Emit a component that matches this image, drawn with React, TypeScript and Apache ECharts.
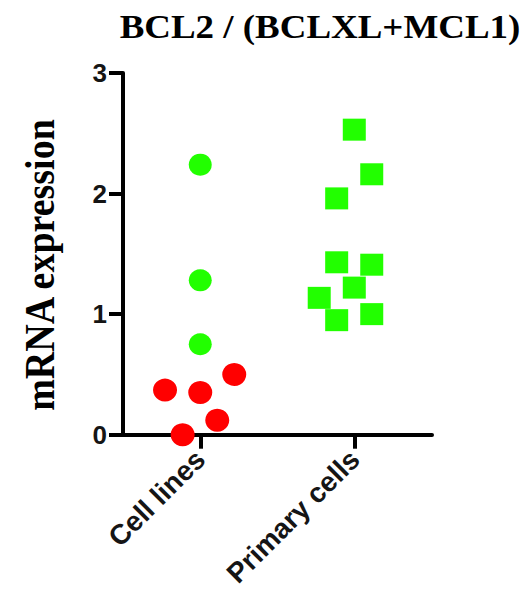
import React, { useEffect, useRef } from "react";
import * as echarts from "echarts";

// Groups on the category axis
const categories = ["Cell lines", "Primary cells"];
const yTicks = [0, 1, 2, 3];

// Cell lines: horizontal position (jittered around group centre 0.5) and ratio
const cellGreenX = [0.5, 0.5, 0.5];
const cellGreenY = [2.24, 1.28, 0.75];
const cellRedX = [0.272, 0.5, 0.72, 0.61, 0.386];
const cellRedY = [0.37, 0.35, 0.5, 0.12, 0.0];

// Primary cells: jittered around group centre 1.5
const primaryX = [1.497, 1.61, 1.383, 1.383, 1.61, 1.497, 1.27, 1.383, 1.61];
const primaryY = [2.53, 2.16, 1.96, 1.43, 1.41, 1.22, 1.135, 0.95, 1.0];

const GREEN = "#22ff00";
const RED = "#ff0000";

const zip = (xs: number[], ys: number[]) => xs.map((x, i) => [x, ys[i]]);

export default function App() {
  const ref = useRef<HTMLDivElement>(null);

  useEffect(() => {
    if (!ref.current) return;
    const chart = echarts.init(ref.current, null, { renderer: "svg" });
    const axisLine = { show: true, lineStyle: { color: "#000", width: 4 } };
    const tick = { show: true, length: 14, lineStyle: { color: "#000", width: 4 } };
    chart.setOption({
      animation: false,
      grid: { left: 123, right: 94, top: 73, bottom: 153, containLabel: false },
      graphic: [
        {
          type: "text",
          x: 320,
          y: 27,
          scaleX: 1.12,
          style: {
            text: "BCL2 / (BCLXL+MCL1)",
            font: 'bold 33px "Liberation Serif"',
            fill: "#000",
            textAlign: "center",
            textVerticalAlign: "middle",
          },
        },
        {
          type: "text",
          x: 40,
          y: 265,
          rotation: Math.PI / 2,
          scaleY: 1.12,
          style: {
            text: "mRNA expression",
            font: 'bold 38px "Liberation Serif"',
            fill: "#000",
            textAlign: "center",
            textVerticalAlign: "middle",
          },
        },
      ],
      xAxis: [
        {
          type: "category",
          data: categories,
          boundaryGap: true,
          axisLine,
          axisTick: { ...tick, alignWithLabel: true },
          axisLabel: {
            rotate: 45,
            margin: 20,
            fontFamily: "Arial, 'Liberation Sans'",
            fontWeight: "bold",
            fontSize: 28,
            color: "#151515",
          },
          splitLine: { show: false },
        },
        { type: "value", min: 0, max: 2, show: false },
      ],
      yAxis: {
        type: "value",
        min: yTicks[0],
        max: yTicks[yTicks.length - 1],
        interval: 1,
        axisLine,
        axisTick: tick,
        axisLabel: {
          margin: 16,
          fontFamily: "Arial, 'Liberation Sans'",
          fontWeight: "bold",
          fontSize: 26,
          color: "#151515",
        },
        splitLine: { show: false },
      },
      series: [
        {
          type: "scatter",
          xAxisIndex: 1,
          symbol: "circle",
          symbolSize: [23, 22],
          itemStyle: { color: GREEN, opacity: 1 },
          data: zip(cellGreenX, cellGreenY),
        },
        {
          type: "scatter",
          xAxisIndex: 1,
          symbol: "circle",
          symbolSize: [24, 23],
          itemStyle: { color: RED, opacity: 1 },
          data: zip(cellRedX, cellRedY),
        },
        {
          type: "scatter",
          xAxisIndex: 1,
          symbol: "rect",
          symbolSize: [23, 22],
          itemStyle: { color: GREEN, opacity: 1 },
          data: zip(primaryX, primaryY),
        },
      ],
    });
    return () => chart.dispose();
  }, []);

  return <div ref={ref} style={{ width: 526, height: 590, position: "absolute", left: 0, top: 0 }} />;
}
